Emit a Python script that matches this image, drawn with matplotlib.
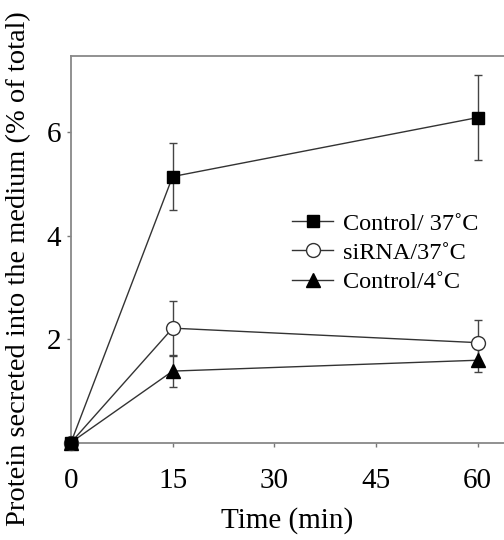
import matplotlib
matplotlib.use("Agg")
import matplotlib.pyplot as plt

time = [0, 15, 60]
ctrl37 = [0, 5.14, 6.28]
ctrl37_err = [0, 0.64, 0.82]
sirna37 = [0, 2.21, 1.93]
sirna37_err = [0, 0.53, 0.44]
ctrl4 = [0, 1.38, 1.59]
ctrl4_err = [0, 0.31, 0.22]
xticks = [0, 15, 30, 45, 60]
yticks = [2, 4, 6]
labels = ["Control/ 37\u02daC", "siRNA/37\u02daC", "Control/4\u02daC"]

plt.rcParams['font.family'] = ['Liberation Serif', 'DejaVu Serif']

fig = plt.figure(figsize=(5.04, 5.40), dpi=100)
ax = fig.add_axes([71/504, (540-442.5)/540, 1-71/504, (442.5-56)/540])

lc = '#333333'
common = dict(color=lc, lw=1.0, elinewidth=1.0, ecolor='#444444', capsize=3, capthick=1.0)
e3 = ax.errorbar(time, ctrl4, yerr=ctrl4_err, marker='^', ms=10, mfc='black', mec='black',
                 zorder=3, **common)
e2 = ax.errorbar(time, sirna37, yerr=sirna37_err, marker='o', ms=10, mfc='white', mec='#333333',
                 mew=1.0, zorder=3, **common)
e1 = ax.errorbar(time, ctrl37, yerr=ctrl37_err, marker='s', ms=9, mfc='black', mec='black',
                 zorder=3, **common)

ax.set_xlim(0, 63.9)
ax.set_ylim(0, 7.47)
ax.set_xticks(xticks)
ax.set_yticks(yticks)
ax.tick_params(axis='both', direction='out', length=3, width=1.0, color='#777777',
               labelsize=21)
ax.tick_params(axis='x', pad=15)
ax.tick_params(axis='y', pad=4)
for s in ['left', 'bottom', 'top']:
    ax.spines[s].set_color('#888888')
    ax.spines[s].set_linewidth(1.3)
ax.spines['right'].set_visible(False)
for coll in ax.collections:
    coll.set_clip_on(False)
for ln in ax.lines:
    ln.set_clip_on(False)

ax.set_xlabel("Time (min)", fontsize=21, labelpad=10)
ax.set_ylabel("Protein secreted into the medium (% of total)", fontsize=20.5)
ax.yaxis.set_label_coords(-0.092, 0.449)

leg = ax.legend([e1[0], e2[0], e3[0]], labels, loc='upper left', bbox_to_anchor=(0.488, 0.62),
                frameon=False, fontsize=17.5, handlelength=1.7, handletextpad=0.4,
                labelspacing=0.3, borderaxespad=0)

fig.savefig("out.png", dpi=100)
